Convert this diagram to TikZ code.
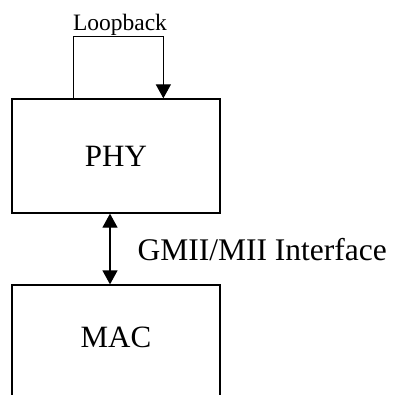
\documentclass[tikz,border=0pt]{standalone}
\usepackage{fontspec}
\setmainfont{Liberation Serif}
\usetikzlibrary{arrows.meta}
\begin{document}
\begin{tikzpicture}[x=1pt,y=-1pt,line width=1.3pt,
  blockbox/.style={draw,minimum width=208pt,inner sep=0pt,font=\fontsize{31}{36}\selectfont},
  tri/.tip={Triangle[width=15pt,length=14pt]},
  lbl/.style={inner sep=0pt}]
\useasboundingbox (0,0) rectangle (393,395);
\clip (0,0) rectangle (393,395);
\node[blockbox,minimum height=114pt] (phy) at (116,156) {PHY};
\node[blockbox,minimum height=112pt,text depth=8pt] (mac) at (116,341) {MAC};
\node[lbl,anchor=base,font=\fontsize{23.5}{28}\selectfont] (loop) at (120,31) {Loopback};
\node[lbl,anchor=base west,font=\fontsize{31.5}{36}\selectfont] (gmii) at (137,260) {GMII/MII Interface};
\draw[-tri] ([xshift=62pt]phy.north west) -- ++(0,-62) -| ([xshift=152pt]phy.north west);
\draw[tri-tri] ([xshift=-6pt]phy.south) -- ([xshift=-6pt]mac.north);
\end{tikzpicture}
\end{document}
